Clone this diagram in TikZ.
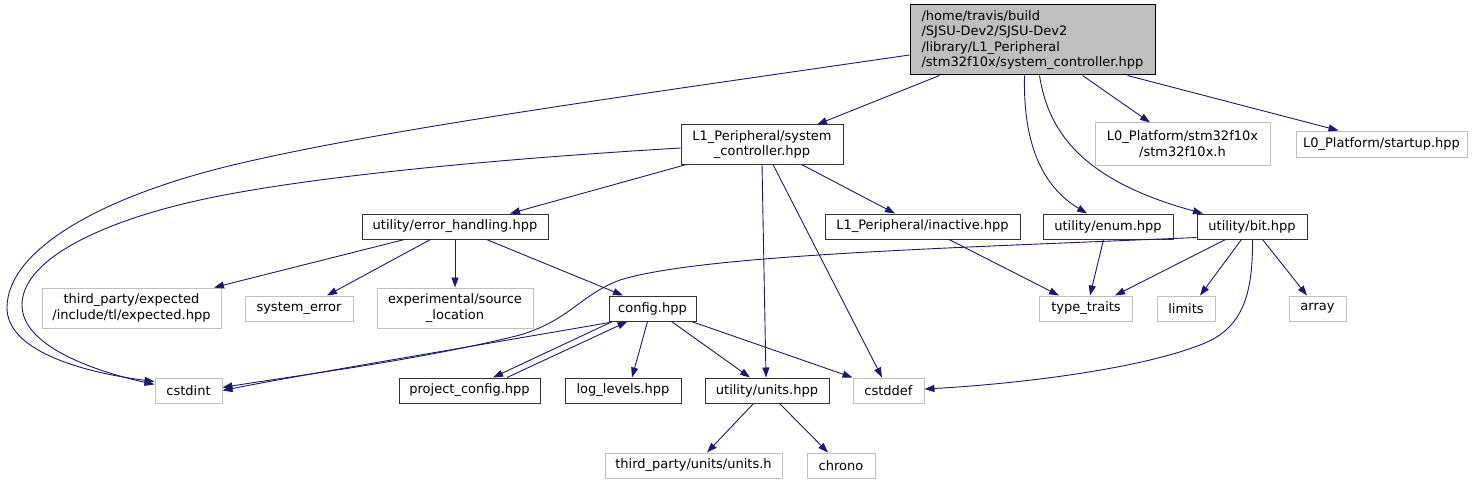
\documentclass[tikz,border=0pt]{standalone}
\usepackage{fontspec}
\setmainfont{DejaVu Sans}
\usetikzlibrary{arrows.meta}
\definecolor{edgec}{HTML}{191970}
\definecolor{gbord}{HTML}{BFBFBF}
\definecolor{gfill}{HTML}{BFBFBF}
\definecolor{bbord}{HTML}{333333}
\begin{document}
\begin{tikzpicture}[x=1pt,y=-1pt,
  box/.style={draw=bbord, line width=1pt, inner sep=0pt, align=center, fill=white,
    font=\fontsize{13}{15.5}\selectfont},
  sysbox/.style={box, draw=gbord},
  mainbox/.style={box, fill=gfill, draw=black, align=left},
  dep/.style={draw=edgec, line width=0.9pt, -{Triangle[length=10pt,width=7pt]}}]
\useasboundingbox (0,0) rectangle (1479,484);

% nodes
\node[mainbox, minimum width=245pt, minimum height=70pt] (main) at (1032.5,40)
  {/home/travis/build\\/SJSU-Dev2/SJSU-Dev2\\/library/L1\_Peripheral\\/stm32f10x/system\_controller.hpp};
\node[sysbox, minimum width=175pt, minimum height=42pt] (stm) at (1182.5,144) {L0\_Platform/stm32f10x\\/stm32f10x.h};
\node[sysbox, minimum width=171pt, minimum height=26pt] (startup) at (1381.5,144) {L0\_Platform/startup.hpp};
\node[box, minimum width=162pt, minimum height=39pt] (l1sc) at (762,144.5) {L1\_Peripheral/system\\\_controller.hpp};
\node[box, minimum width=186pt, minimum height=25pt] (err) at (455,226.5) {utility/error\_handling.hpp};
\node[box, minimum width=195pt, minimum height=25pt] (inact) at (922.5,226.5) {L1\_Peripheral/inactive.hpp};
\node[box, minimum width=130pt, minimum height=25pt] (enum) at (1108,226.5) {utility/enum.hpp};
\node[box, minimum width=110pt, minimum height=25pt] (bit) at (1252,226.5) {utility/bit.hpp};
\node[sysbox, minimum width=179pt, minimum height=40pt] (expected) at (131.5,308) {third\_party/expected\\/include/tl/expected.hpp};
\node[sysbox, minimum width=108pt, minimum height=25pt] (syserr) at (299,308.5) {system\_error};
\node[sysbox, minimum width=156pt, minimum height=40pt] (srcloc) at (455,308) {experimental/source\\\_location};
\node[box, minimum width=87pt, minimum height=25pt] (config) at (652.5,308.5) {config.hpp};
\node[sysbox, minimum width=93pt, minimum height=25pt] (tt) at (1086,308.5) {type\_traits};
\node[sysbox, minimum width=58pt, minimum height=25pt] (limits) at (1186,308.5) {limits};
\node[sysbox, minimum width=57pt, minimum height=25pt] (array) at (1317.5,308.5) {array};
\node[sysbox, minimum width=67pt, minimum height=25pt] (cstdint) at (188.5,390.5) {cstdint};
\node[box, minimum width=141pt, minimum height=25pt] (pc) at (469.5,390.5) {project\_config.hpp};
\node[box, minimum width=116pt, minimum height=25pt] (log) at (623,390.5) {log\_levels.hpp};
\node[box, minimum width=124pt, minimum height=25pt] (units) at (767,390.5) {utility/units.hpp};
\node[sysbox, minimum width=71pt, minimum height=25pt] (cstddef) at (888.5,390.5) {cstddef};
\node[sysbox, minimum width=177pt, minimum height=25pt] (unitsh) at (693.5,465.5) {third\_party/units/units.h};
\node[sysbox, minimum width=68pt, minimum height=25pt] (chrono) at (841,465.5) {chrono};

% edges from main
\draw[dep] ([xshift=30pt]main.south west) -- ([xshift=55pt]l1sc.north);
\draw[dep] ([xshift=173pt]main.south west) -- ([xshift=-32.5pt]stm.north);
\draw[dep] ([xshift=218pt]main.south west) -- ([xshift=-43pt]startup.north);
\draw[dep] ([xshift=115pt]main.south west) .. controls (1023,140) and (1040,185) .. ([xshift=-21pt]enum.north);
\draw[dep] ([xshift=130pt]main.south west) .. controls (1048,130) and (1080,180) .. ([xshift=-49pt]bit.north);
\draw[dep] ([yshift=-15pt]main.west) .. controls (620,97) and (380,130) .. (233,165)
  .. controls (100,197) and (8,250) .. (7,307)
  .. controls (6,350) and (80,372) .. ([yshift=9pt]cstdint.west);

% edges from L1 system controller
\draw[dep] ([yshift=-3.5pt]l1sc.west) .. controls (480,160) and (300,178) .. (200,200)
  .. controls (100,222) and (22,260) .. (22,305)
  .. controls (22,345) and (90,370) .. ([yshift=6pt]cstdint.west);
\draw[dep] ([xshift=6pt]l1sc.south west) -- ([xshift=55pt]err.north);
\draw[dep] ([xshift=121pt]l1sc.south west) -- ([xshift=-27.5pt]inact.north);
\draw[dep] (l1sc.south) -- ([xshift=-1pt]units.north);
\draw[dep] ([xshift=11pt]l1sc.south) -- ([xshift=-6.5pt]cstddef.north);

% edges from error handling
\draw[dep] ([xshift=43pt]err.south west) -- ([xshift=82.5pt]expected.north);
\draw[dep] ([xshift=69pt]err.south west) -- ([xshift=28pt]syserr.north);
\draw[dep] (err.south) -- (srcloc.north);
\draw[dep] ([xshift=-62pt]err.south east) -- ([xshift=-29.5pt]config.north);

% edges to type_traits etc.
\draw[dep] ([xshift=26.5pt]inact.south) -- ([xshift=-27pt]tt.north);
\draw[dep] ([xshift=61pt]enum.south west) -- ([xshift=4pt]tt.north);
\draw[dep] ([xshift=29pt]bit.south west) -- ([xshift=29pt]tt.north);
\draw[dep] ([xshift=45pt]bit.south west) -- ([xshift=14pt]limits.north);
\draw[dep] ([xshift=66pt]bit.south west) -- ([xshift=-10.5pt]array.north);
\draw[dep] ([xshift=56pt]bit.south west) .. controls (1253,300) and (1240,330) .. (1200,345)
  .. controls (1130,372) and (1000,385) .. ([yshift=1.5pt]cstddef.east);
\draw[dep] ([yshift=2pt]bit.south west) .. controls (950,248) and (700,255) .. (620,280)
  .. controls (580,295) and (570,320) .. (520,335)
  .. controls (420,360) and (300,375) .. ([yshift=3pt]cstdint.east);

% edges from config
\draw[dep] ([xshift=1pt,yshift=-1pt]config.south west) .. controls (480,345) and (300,375) .. (cstdint.east);
\draw[dep] ([xshift=4pt]config.south west) -- ([xshift=23.5pt]pc.north);
\draw[dep] ([xshift=37.5pt]pc.north) -- ([xshift=19pt]config.south west);
\draw[dep] ([xshift=39pt]config.south west) -- ([xshift=9pt]log.north);
\draw[dep] ([xshift=63pt]config.south west) -- ([xshift=-17pt]units.north);
\draw[dep] ([xshift=-5pt]config.south east) -- (cstddef.north west);

% edges from units
\draw[dep] ([xshift=49pt]units.south west) -- ([xshift=13.5pt]unitsh.north);
\draw[dep] ([xshift=75pt]units.south west) -- ([xshift=-13pt]chrono.north);
\end{tikzpicture}
\end{document}
